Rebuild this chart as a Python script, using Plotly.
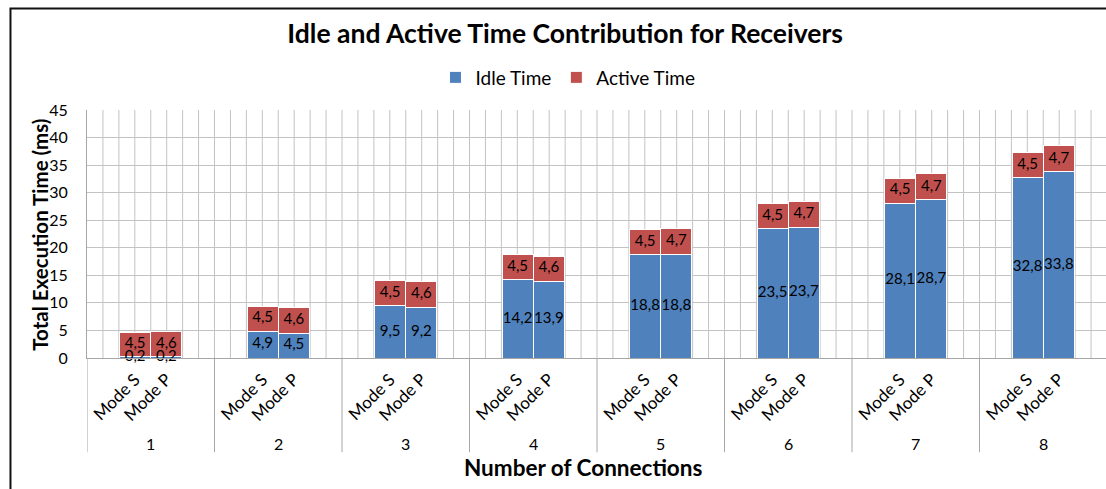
import plotly.graph_objects as go

groups = ["1", "2", "3", "4", "5", "6", "7", "8"]
modes = ["Mode S", "Mode P"]
idle_s = [0.2, 4.9, 9.5, 14.2, 18.8, 23.5, 28.1, 32.8]
idle_p = [0.2, 4.5, 9.2, 13.9, 18.8, 23.7, 28.7, 33.8]
active_s = [4.5, 4.5, 4.5, 4.5, 4.5, 4.5, 4.5, 4.5]
active_p = [4.6, 4.6, 4.6, 4.6, 4.7, 4.7, 4.7, 4.7]

FONT = "Lato"
BLUE = "#4F81BD"
RED = "#C0504D"
GRID = "#C3C3C3"
AXIS = "#A6A6A6"

BW = 0.245  # bar width in group units
mode_shift = {"Mode S": -BW / 2, "Mode P": BW / 2}

xpos, xlab = [], []
for gi, g in enumerate(groups):
    for m in modes:
        xpos.append(gi + 1 + mode_shift[m])
        xlab.append(m)
idle = [v for pair in zip(idle_s, idle_p) for v in pair]
active = [v for pair in zip(active_s, active_p) for v in pair]

fig = go.Figure()
for name, vals, col in [("Idle Time", idle, BLUE), ("Active Time", active, RED)]:
    fig.add_trace(go.Bar(
        name=name, x=xpos, y=vals, width=BW,
        marker=dict(color=col, line=dict(color="white", width=1)),
        hoverinfo="skip",
    ))

# data labels drawn above all bars, centred in each segment
bases = [[0.0] * len(idle), idle]
for vals, base in zip([idle, active], bases):
    fig.add_trace(go.Scatter(
        x=xpos, y=[b + v / 2 for b, v in zip(base, vals)], mode="text",
        text=[f"{v:.1f}".replace(".", ",") for v in vals],
        textposition="middle center", showlegend=False, hoverinfo="skip",
        cliponaxis=False, textfont=dict(family=FONT, size=15, color="black"),
    ))

n = len(groups)
x_max = n + 0.5 - 1 / 127.5
fig.update_layout(
    width=1106, height=489,
    barmode="stack",
    separators=", ",
    paper_bgcolor="white", plot_bgcolor="white",
    margin=dict(l=87, r=0, t=110, b=131, autoexpand=False),
    font=dict(family=FONT, color="black"),
    showlegend=True,
    title=dict(text="<b>Idle and Active Time Contribution for Receivers</b>",
               x=0.511, xanchor="center", y=0.931, yanchor="middle",
               font=dict(family=FONT, size=26.5, color="black")),
    legend=dict(orientation="h", x=0.472, xanchor="center", y=1.131, yanchor="middle",
                font=dict(family=FONT, size=19), traceorder="normal",
                itemwidth=30, bgcolor="rgba(0,0,0,0)"),
    xaxis=dict(range=[0.5, x_max], automargin=False, showgrid=False,
               zeroline=False, tickmode="array", tickvals=xpos, ticktext=xlab,
               tickangle=-45, tickfont=dict(family=FONT, size=17),
               ticks="outside", ticklen=0, ticklabelstandoff=4,
               showline=True, linecolor=AXIS, linewidth=1),
    yaxis=dict(range=[0, 45], dtick=5, automargin=False, showgrid=True,
               gridcolor=GRID, gridwidth=1,
               zeroline=False, showline=True, linecolor=AXIS, linewidth=1,
               ticks="outside", ticklen=0, ticklabelstandoff=15,
               tickfont=dict(family=FONT, size=16)),
)

# minor vertical gridlines (8 per group)
step = 1 / 8
k = 1
while 0.5 + k * step < x_max:
    xv = 0.5 + k * step
    fig.add_shape(type="line", xref="x", yref="paper", x0=xv, x1=xv, y0=0, y1=1,
                  layer="below", line=dict(color=GRID, width=1))
    k += 1

# group labels and dividers of the two-level category axis
for gi, g in enumerate(groups):
    fig.add_annotation(x=gi + 1, y=-0.344, xref="x", yref="paper", text=g,
                       showarrow=False, xanchor="center", yanchor="middle",
                       font=dict(family=FONT, size=16))
for k in range(n + 1):
    fig.add_shape(type="line", xref="x", yref="paper", x0=k + 0.5, x1=k + 0.5,
                  y0=-0.38, y1=0, line=dict(color=AXIS, width=1))

fig.add_annotation(x=0.487, y=-0.440, xref="paper", yref="paper",
                   text="<b>Number of Connections</b>", showarrow=False,
                   xanchor="center", yanchor="middle", font=dict(family=FONT, size=22.5))
fig.add_annotation(x=(40 - 87) / 1019, y=0.497, xref="paper", yref="paper",
                   text="<b>Total Execution Time (ms)</b>", showarrow=False, textangle=-90,
                   xanchor="center", yanchor="middle", font=dict(family=FONT, size=20.5))

fig.add_shape(type="rect", xref="paper", yref="paper",
              x0=-0.0751, x1=1.02, y0=-0.8, y1=1.409,
              line=dict(color="#111111", width=2), fillcolor="rgba(0,0,0,0)", layer="above")

fig.write_html("out.html", config={"displayModeBar": False},
               post_script="document.body.style.margin='0px';")
